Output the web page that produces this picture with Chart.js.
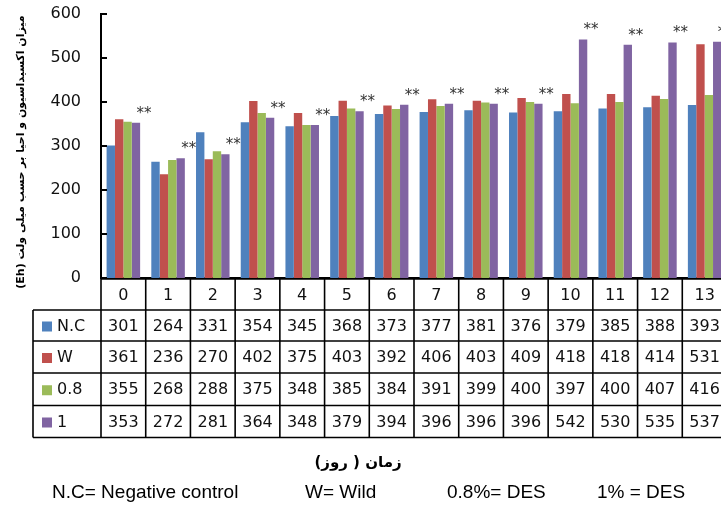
<!DOCTYPE html>
<html>
<head>
<meta charset="utf-8">
<script src="https://cdn.jsdelivr.net/npm/chart.js@4/dist/chart.umd.min.js"></script>
<style>
html, body { margin: 0; padding: 0; background: #fff; overflow: hidden; }
#wrap { position: relative; width: 728px; height: 506px; }
</style>
</head>
<body>
<div id="wrap"><canvas id="eh"></canvas></div>
<script>
// days
var days = ['0', '1', '2', '3', '4', '5', '6', '7', '8', '9', '10', '11', '12', '13'];
var seriesNames = ['N.C', 'W', '0.8', '1'];
var nc   = [301, 264, 331, 354, 345, 368, 373, 377, 381, 376, 379, 385, 388, 393];
var wild = [361, 236, 270, 402, 375, 403, 392, 406, 403, 409, 418, 418, 414, 531];
var des08 = [355, 268, 288, 375, 348, 385, 384, 391, 399, 400, 397, 400, 407, 416];
var des1 = [353, 272, 281, 364, 348, 379, 394, 396, 396, 396, 542, 530, 535, 537];
var yTicks = [0, 100, 200, 300, 400, 500, 600];
var colors = ['#4F81BD', '#C0504D', '#9BBB59', '#8064A2'];
var yTitle = 'میزان اکسیداسیون و احیا بر حسب میلی ولت (Eh)';
var xTitle = 'زمان ( روز)';
var notes = ['N.C= Negative control', 'W= Wild', '0.8%= DES', '1% = DES'];

var tablePlugin = {
    id: 'tablePlugin',
    afterDraw: function (chart) {
        var ctx = chart.ctx;
        var xs = chart.scales.x, ys = chart.scales.y;
        var area = chart.chartArea;
        var L = area.left, R = area.right;
        var step = (R - L) / days.length;
        ctx.save();

        // inner tick marks on y axis
        ctx.strokeStyle = '#000';
        ctx.lineWidth = 2;
        yTicks.forEach(function (v) {
            var y = ys.getPixelForValue(v);
            ctx.beginPath(); ctx.moveTo(L, y); ctx.lineTo(L + 6, y); ctx.stroke();
        });

        // stars over purple bars
        ctx.fillStyle = '#333';
        ctx.font = '15px "DejaVu Sans"';
        ctx.textAlign = 'center';
        ctx.textBaseline = 'middle';
        chart.getDatasetMeta(3).data.forEach(function (bar) {
            ctx.fillText('**', bar.x + 8, bar.y - 9);
        });

        // table
        var top = area.bottom + 1;
        var rowsY = [top, top + 31, top + 62, top + 94, top + 126.5, top + 158.5];
        var legL = 33;
        ctx.lineWidth = 1.6;
        ctx.strokeStyle = '#000';
        for (var r = 0; r < rowsY.length; r++) {
            ctx.beginPath();
            ctx.moveTo(r === 0 ? L : legL, rowsY[r]);
            ctx.lineTo(R, rowsY[r]);
            ctx.stroke();
        }
        for (var c = 0; c <= days.length; c++) {
            var x = L + c * step;
            ctx.beginPath(); ctx.moveTo(x, top); ctx.lineTo(x, rowsY[5]); ctx.stroke();
        }
        ctx.beginPath(); ctx.moveTo(legL, rowsY[1]); ctx.lineTo(legL, rowsY[5]); ctx.stroke();

        ctx.fillStyle = '#111';
        ctx.font = '16px "DejaVu Sans"';
        days.forEach(function (d, i) {
            var cx = xs.getPixelForValue(i);
            ctx.fillText(d, cx, (rowsY[0] + rowsY[1]) / 2 + 1);
        });
        var rows = [nc, wild, des08, des1];
        rows.forEach(function (vals, r) {
            var cy = (rowsY[r + 1] + rowsY[r + 2]) / 2 + 1;
            vals.forEach(function (v, i) {
                ctx.fillStyle = '#111';
                ctx.fillText(String(v), xs.getPixelForValue(i), cy);
            });
            ctx.fillStyle = colors[r];
            ctx.fillRect(42, cy - 5, 10, 10);
            ctx.fillStyle = '#111';
            ctx.textAlign = 'left';
            ctx.fillText(seriesNames[r], 57, cy);
            ctx.textAlign = 'center';
        });

        // axis titles and note line
        ctx.fillStyle = '#000';
        ctx.direction = 'rtl';
        ctx.font = 'bold 15px "DejaVu Sans"';
        ctx.fillText(xTitle, 358, 463);

        ctx.save();
        ctx.translate(21, 152);
        ctx.rotate(-Math.PI / 2);
        ctx.font = 'bold 11px "DejaVu Sans"';
        ctx.fillText(yTitle, 0, 0);
        ctx.restore();
        ctx.direction = 'ltr';

        ctx.font = '19px "Liberation Sans"';
        ctx.textAlign = 'left';
        var noteX = [52, 305, 447, 597];
        notes.forEach(function (t, i) { ctx.fillText(t, noteX[i], 493); });
        ctx.restore();
    }
};

var ctx = document.getElementById('eh');
var myChart = new Chart(ctx, {
    type: 'bar',
    data: {
        labels: days,
        datasets: [
            { label: seriesNames[0], data: nc, backgroundColor: colors[0] },
            { label: seriesNames[1], data: wild, backgroundColor: colors[1] },
            { label: seriesNames[2], data: des08, backgroundColor: colors[2] },
            { label: seriesNames[3], data: des1, backgroundColor: colors[3] }
        ]
    },
    options: {
        responsive: true,
        maintainAspectRatio: false,
        animation: false,
        datasets: { bar: { categoryPercentage: 0.75, barPercentage: 1.0 } },
        layout: { padding: { top: 0, right: 1, bottom: 228, left: 0 } },
        plugins: { legend: { display: false }, tooltip: { enabled: false } },
        scales: {
            x: {
                ticks: { display: false },
                grid: { display: false, drawTicks: false },
                border: { color: '#000', width: 2 }
            },
            y: {
                min: 0, max: 600,
                afterFit: function (s) { s.width = 101; s.paddingTop = 14; s.paddingBottom = 0; },
                afterBuildTicks: function (s) { s.ticks = yTicks.map(function (v) { return { value: v }; }); },
                ticks: { padding: 20, color: '#111', font: { family: 'DejaVu Sans', size: 16 } },
                grid: { display: false, drawTicks: false },
                border: { color: '#000', width: 2 }
            }
        }
    },
    plugins: [tablePlugin]
});
</script>
</body>
</html>
